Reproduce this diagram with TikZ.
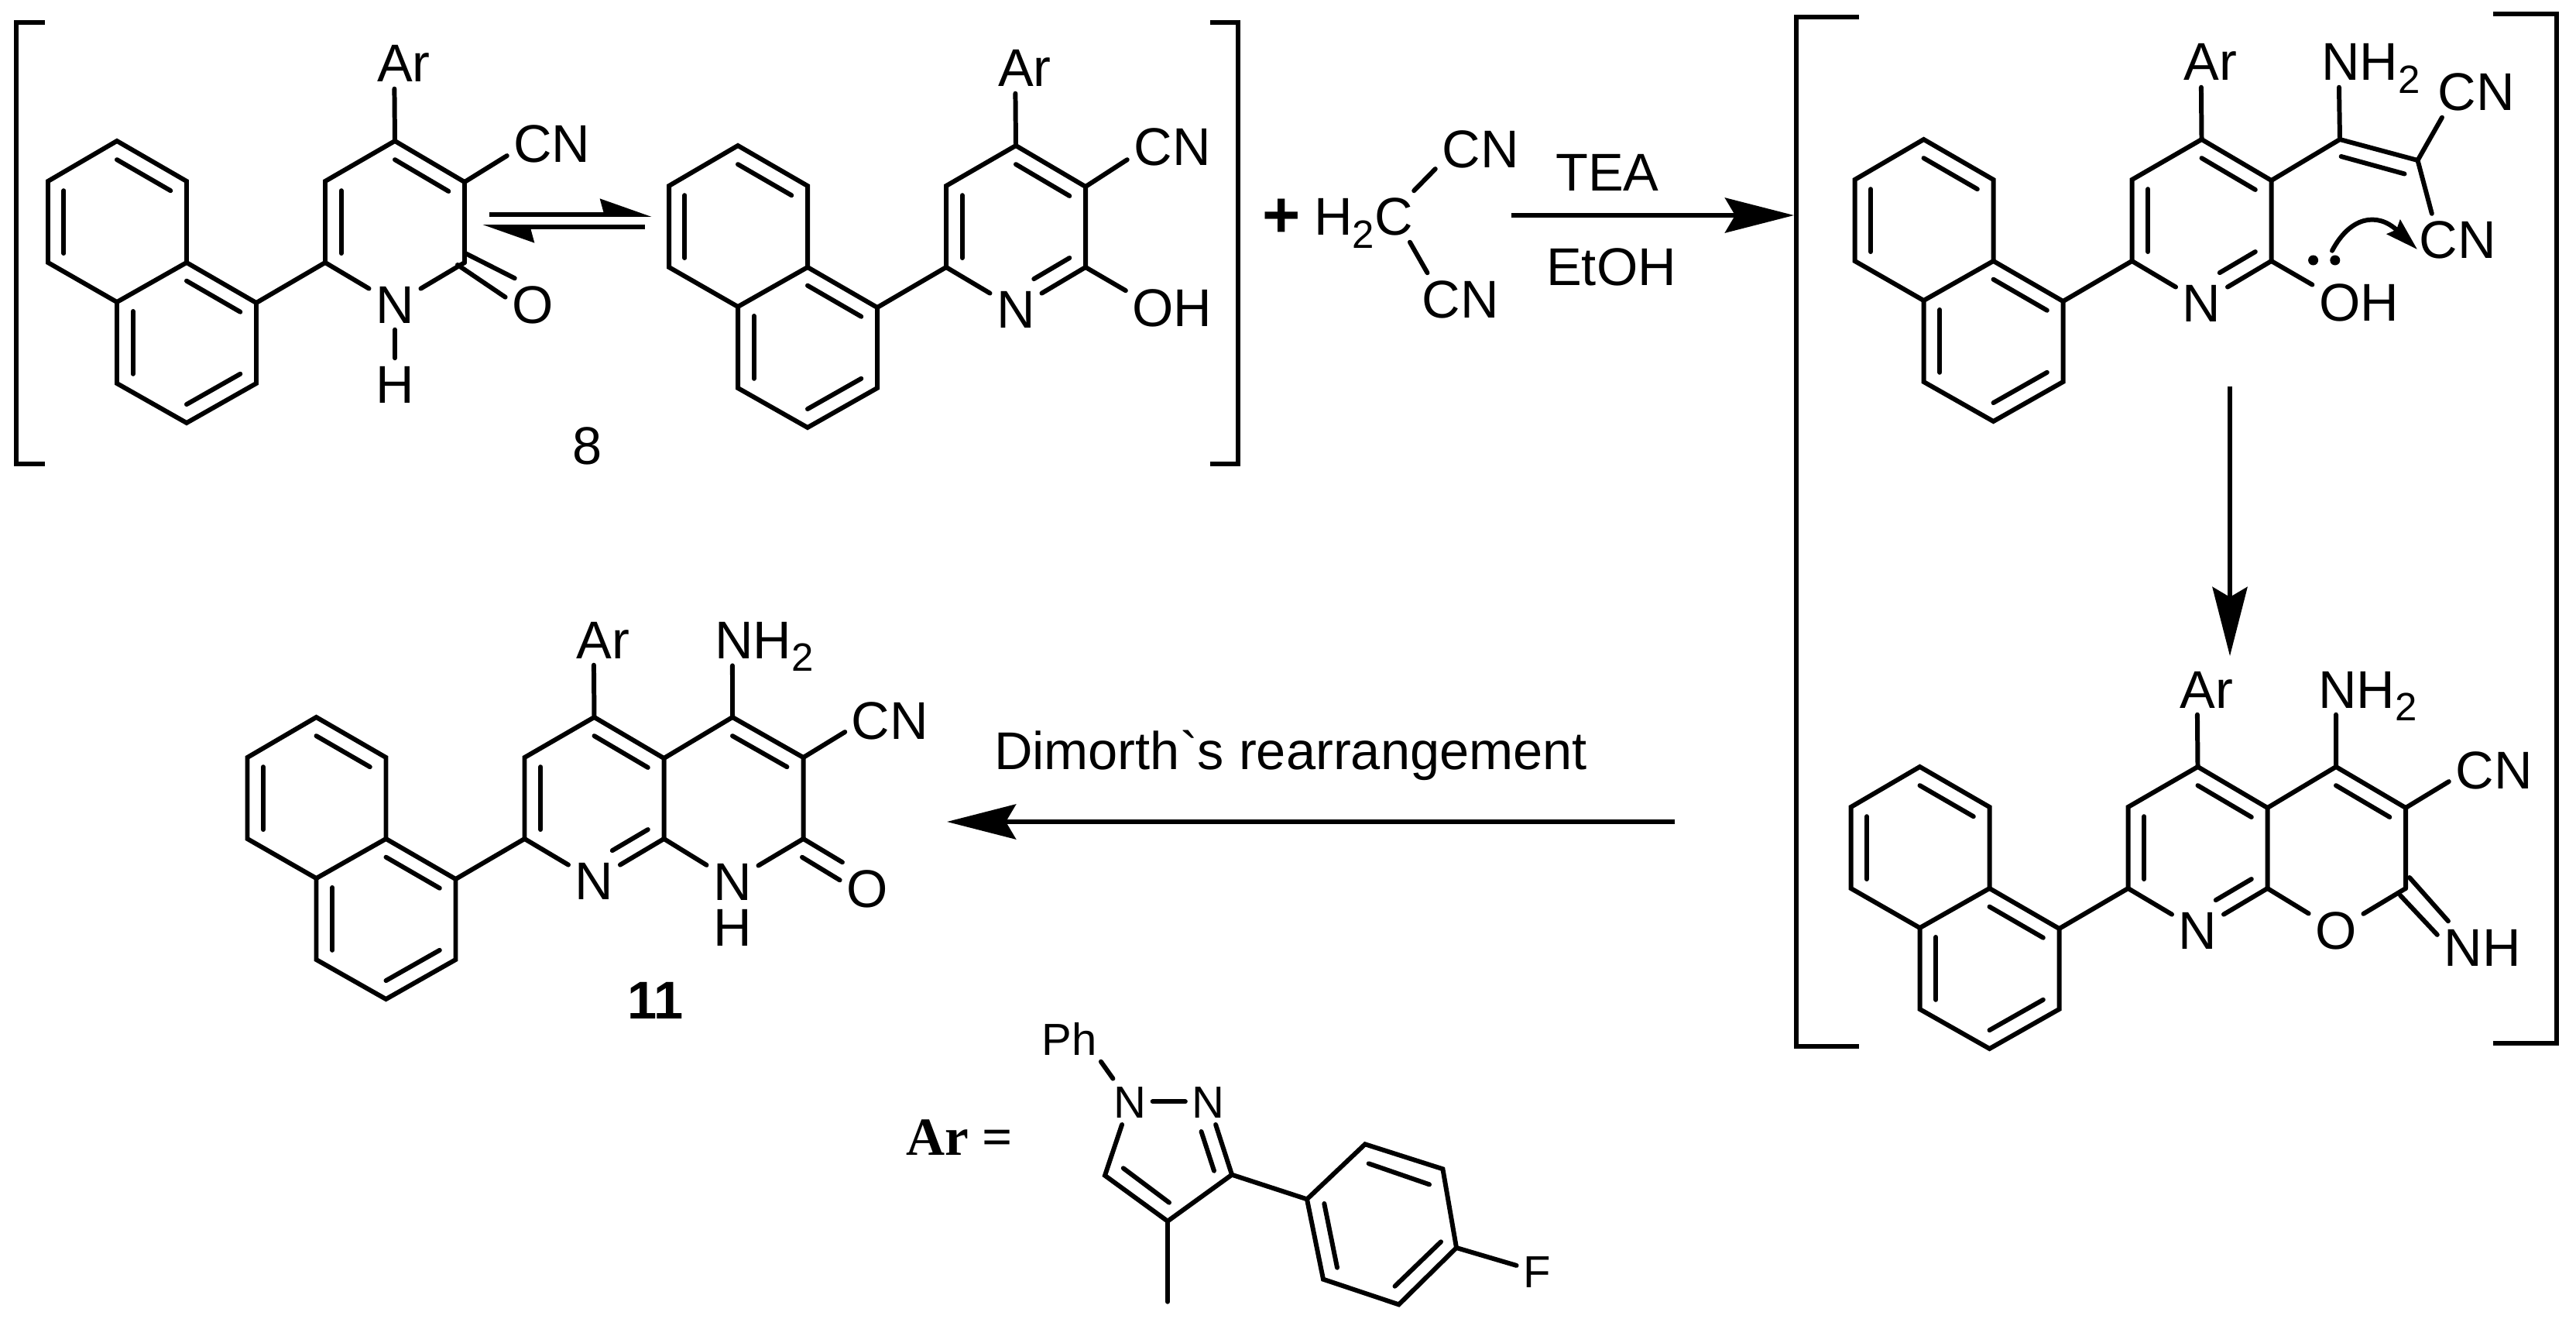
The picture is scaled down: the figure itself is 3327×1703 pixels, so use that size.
\documentclass[tikz,border=0pt]{standalone}
\usepackage{fontspec}
\setmainfont{Liberation Sans}
\newfontfamily\arfont{Liberation Serif}
\usetikzlibrary{arrows.meta,calc}

% subscript two of NH2 and H2C
\newcommand{\subtwo}{\raisebox{-0.16cm}{\fontsize{14.5}{15}\selectfont 2}}
% inner line of a double bond, pulled towards the ring centre
\newcommand{\innerbond}[3]{\draw[bond] ($(#1)!0.77!(#2)$) -- ($(#1)!0.77!(#3)$);}
% naphthyl plus pyridine ring with its Ar and ring N, #2,#3 is the ring top
\newcommand{\arylskeleton}[3]{
  \begin{scope}[shift={(#2,#3)}]
    \foreach \nm/\px/\py in {a1/-359/0,a2/-448/52,a3/-448/157,a4/-359/208,a5/-269/157,a6/-269/52,
      b1/-359/313,b2/-269/364,b3/-179/313,b4/-179/209,c1/-90/157,c2/-90/52,c3/0/0,c4/90/53,c5/90/157,
      ra/-359/105,rb/-269/260,rc/0/105,vn/0/210}
      \coordinate (#1-\nm) at (\px,\py);
    \node (#1-ar) [atom] at (11.5,-76) {Ar};
    \node (#1-n) [atom] at (0,235) {N};
  \end{scope}
  \draw[bond] (#1-a1) -- (#1-a2) -- (#1-a3) -- (#1-a4) -- (#1-a5) -- (#1-a6) -- cycle;
  \draw[bond] (#1-a4) -- (#1-b1) -- (#1-b2) -- (#1-b3) -- (#1-b4) -- (#1-a5);
  \draw[bond] (#1-b4) -- (#1-c1) -- (#1-c2) -- (#1-c3) -- (#1-c4) -- (#1-c5);
  \draw[bond] (#1-c1) -- (#1-n);
  \draw[bond] (#1-c5) -- (#1-n);
  \draw[bond] (#1-c3) -- (#1-ar.250);
  \innerbond{#1-ra}{#1-a1}{#1-a6}
  \innerbond{#1-ra}{#1-a2}{#1-a3}
  \innerbond{#1-rb}{#1-a5}{#1-b4}
  \innerbond{#1-rb}{#1-a4}{#1-b1}
  \innerbond{#1-rb}{#1-b2}{#1-b3}
  \innerbond{#1-rc}{#1-c1}{#1-c2}
  \innerbond{#1-rc}{#1-c3}{#1-c4}
}

\begin{document}
\begin{tikzpicture}[x=0.01cm,y=-0.01cm]
\tikzstyle{bond}=[line width=1.7pt,line cap=round,line join=miter]
\tikzstyle{bracket}=[line width=1.7pt,line join=miter]
\tikzstyle{atom}=[anchor=base,inner sep=0.08cm,text height=0.49cm,text depth=0pt,font=\fontsize{19.5}{20}\selectfont]
\tikzstyle{smallatom}=[anchor=base,inner sep=0.08cm,text height=0.42cm,text depth=0pt,font=\fontsize{16.5}{17}\selectfont]
\tikzstyle{arrowline}=[line width=1.7pt,-{Stealth[length=0.89cm,width=0.45cm,inset=0.13cm]}]
\tikzstyle{halfarrow}=[line width=1.7pt,-{Stealth[harpoon,length=0.58cm,width=0.40cm,inset=0.05cm]}]
% end of definitions
\useasboundingbox[fill=white] (0,0) rectangle (3327,1703);

\draw[bracket] (58,29) -- (21,29) -- (21,599) -- (58,599); %left tautomers
\draw[bracket] (1563,29) -- (1599,29) -- (1599,599) -- (1563,599);
\draw[bracket] (2401,22) -- (2320,22) -- (2320,1351) -- (2401,1351); %intermediates
\draw[bracket] (3220,18) -- (3302,18) -- (3302,1347) -- (3220,1347);

% pyridone 8
\arylskeleton{sa}{510}{182}
\node (sa-cn) [atom] at (713,210) {CN};
\node (sa-h) [atom] at (510,520) {H};
\node (sa-o) [atom] at (688,417) {O};
\node (sa-num) [atom] at (759,599) {8};
\coordinate (sa-co1) at (600,326.5);
\coordinate (sa-co2) at (591,342);
\draw[bond] (sa-c4) -- (sa-cn.195);
\draw[bond] (sa-n) -- (sa-h);
\draw[bond] (sa-co1) -- (sa-o.125);
\draw[bond] (sa-co2) -- (sa-o.166);

\coordinate (eqa-start) at (632,277);
\coordinate (eqa-end) at (842,277);
\coordinate (eqb-start) at (833,293);
\coordinate (eqb-end) at (623,293);
\draw[halfarrow] (eqa-start) -- (eqa-end);
\draw[halfarrow] (eqb-start) -- (eqb-end);

% hydroxy tautomer
\arylskeleton{sb}{1312}{188}
\node (sb-cn) [atom] at (1514,214) {CN};
\node (sb-oh) [atom] at (1514,421.6) {OH};
\draw[bond] (sb-c4) -- (sb-cn.196);
\draw[bond] (sb-c5) -- (sb-oh.160);
\draw[bond,shorten <=0.27cm] ($(sb-rc)!0.77!(sb-vn)$) -- ($(sb-rc)!0.77!(sb-c5)$);

% malononitrile
\node (plus) [font=\bfseries\fontsize{24}{24}\selectfont,inner sep=0pt] at (1655,282) {+};
\node (mal-c) [atom] at (1761,304) {H\subtwo C};
\node (mal-cna) [atom] at (1912,216.7) {CN};
\node (mal-cnb) [atom] at (1886,410) {CN};
\draw[bond] (mal-c.27) -- (mal-cna.204);
\draw[bond] (mal-c.331) -- (mal-cnb.142);

\node (tea) [atom] at (2076,247) {TEA};
\node (etoh) [atom] at (2081,368) {EtOH};
\coordinate (react-start) at (1952,278);
\coordinate (react-end) at (2317,278);
\draw[arrowline] (react-start) -- (react-end);

% enamine intermediate
\arylskeleton{sc}{2843.5}{180}
\coordinate (sc-va) at (3022,180);
\coordinate (sc-vb) at (3122.5,207);
\coordinate (sc-ia) at (3023.6,202);
\coordinate (sc-ib) at (3105.5,224.5);
\node (sc-nh) [atom] at (3062,104) {NH\subtwo};
\node (sc-cna) [atom] at (3198,143) {CN};
\node (sc-cnb) [atom] at (3174,333.5) {CN};
\node (sc-oh) [atom] at (3046.5,414) {OH};
\draw[bond] (sc-c4) -- (sc-va) -- (sc-vb);
\draw[bond] (sc-ia) -- (sc-ib);
\draw[bond] (sc-va) -- (sc-nh.219);
\draw[bond] (sc-vb) -- (sc-cna.217);
\draw[bond] (sc-vb) -- (sc-cnb.135);
\draw[bond] (sc-c5) -- (sc-oh.160);
\draw[bond,shorten <=0.27cm] ($(sc-rc)!0.77!(sc-vn)$) -- ($(sc-rc)!0.77!(sc-c5)$);
\fill (2987.6,336) circle (0.065cm); %lone pair
\fill (3015.8,336) circle (0.065cm);
\coordinate (curl-start) at (3012,323.7);
\coordinate (curl-end) at (3122,322);
\draw[bond,-{Stealth[length=0.42cm,width=0.25cm,inset=0.05cm]}] (curl-start) .. controls (3035,280) and (3070,273) .. (curl-end);

\coordinate (down-start) at (2880,499);
\coordinate (down-end) at (2880,847);
\draw[arrowline] (down-start) -- (down-end);

% iminopyrano intermediate
\arylskeleton{sd}{2838.5}{990}
\coordinate (sd-f1) at (3017,990);
\coordinate (sd-f2) at (3107,1043);
\coordinate (sd-f3) at (3107,1147);
\coordinate (sd-rf) at (3017,1095);
\coordinate (sd-ca) at (3112,1133);
\coordinate (sd-cb) at (3100,1156);
\node (sd-nh2) [atom] at (3058,914) {NH\subtwo};
\node (sd-cn) [atom] at (3221,1018) {CN};
\node (sd-o) [atom] at (3017,1225.6) {O};
\node (sd-nh) [atom] at (3206,1247) {NH};
\draw[bond] (sd-c4) -- (sd-f1) -- (sd-f2) -- (sd-f3);
\draw[bond] (sd-f1) -- (sd-nh2.219);
\draw[bond] (sd-f2) -- (sd-cn.195);
\draw[bond] (sd-c5) -- (sd-o);
\draw[bond] (sd-f3) -- (sd-o);
\draw[bond] (sd-ca) -- (sd-nh.143);
\draw[bond] (sd-cb) -- (sd-nh.165);
\innerbond{sd-rf}{sd-f1}{sd-f2}
\draw[bond,shorten <=0.27cm] ($(sd-rc)!0.77!(sd-vn)$) -- ($(sd-rc)!0.77!(sd-c5)$);

% rearrangement arrow and text
\coordinate (back-start) at (2163,1061);
\coordinate (back-end) at (1223,1061);
\draw[arrowline] (back-start) -- (back-end);
\node (dimroth) [atom] at (1667,993) {Dimorth\textasciigrave s rearrangement};

% naphthyridinone 11
\arylskeleton{se}{767.5}{926}
\coordinate (se-f1) at (946,926);
\coordinate (se-f2) at (1037.5,978);
\coordinate (se-f3) at (1037.5,1083);
\coordinate (se-rf) at (946,1031);
\coordinate (se-cb) at (1036,1106.8);
\node (se-nh2) [atom] at (987,850.7) {NH\subtwo};
\node (se-cn) [atom] at (1149.5,954) {CN};
\node (se-nh) [atom] at (946,1162) {N};
\node (se-h) [atom,inner sep=0pt] at (946,1221) {H};
\node (se-o) [atom] at (1120,1171) {O};
\node (se-num) [atom,font=\bfseries\fontsize{19.5}{20}\selectfont] at (846.5,1315.7) {11};
\draw[bond] (se-c4) -- (se-f1) -- (se-f2) -- (se-f3);
\draw[bond] (se-f1) -- (se-nh2.219);
\draw[bond] (se-f2) -- (se-cn.195);
\draw[bond] (se-c5) -- (se-nh);
\draw[bond] (se-f3) -- (se-nh);
\draw[bond] (se-f3) -- (se-o.134);
\draw[bond] (se-cb) -- (se-o.164);
\innerbond{se-rf}{se-f1}{se-f2}
\draw[bond,shorten <=0.27cm] ($(se-rc)!0.77!(se-vn)$) -- ($(se-rc)!0.77!(se-c5)$);

% Ar substituent
\node (ar-key) [atom,font=\arfont\bfseries\fontsize{19.7}{20}\selectfont] at (1239,1491.7) {Ar =};
\foreach \nm/\px/\py in {p1/1427/1517.7,p2/1508/1576.7,p3/1591/1516.7,me/1508/1680.7,
  q1/1688/1548.3,q2/1763/1477.3,q3/1863.4/1509.3,q4/1881/1611,q5/1806.6/1684.3,q6/1709/1651.7}
  \coordinate (\nm) at (\px,\py);
\node (ph) [smallatom] at (1381,1362) {Ph};
\node (na) [smallatom] at (1459,1443.3) {N};
\node (nb) [smallatom] at (1560.5,1443.3) {N};
\node (fl) [smallatom] at (1985,1662.7) {F};
\draw[bond] (ph.324) -- (na.126);
\draw[bond] (na) -- (nb);
\draw[bond] (na) -- (p1) -- (p2) -- (p3) -- (nb);
\draw[bond] (p2) -- (me);
\draw[bond] (p3) -- (q1) -- (q2) -- (q3) -- (q4) -- (q5) -- (q6) -- (q1);
\draw[bond] (q4) -- (fl);
\draw[bond] (1551.5,1461) -- (1568,1511.7); %inner lines
\draw[bond] (1450.8,1508.3) -- (1510,1552.7);
\draw[bond] (1767.7,1502.3) -- (1846,1529.3);
\draw[bond] (1861,1603.3) -- (1801.5,1660.7);
\draw[bond] (1710.3,1554) -- (1727,1636.7);
\end{tikzpicture}
\end{document}
